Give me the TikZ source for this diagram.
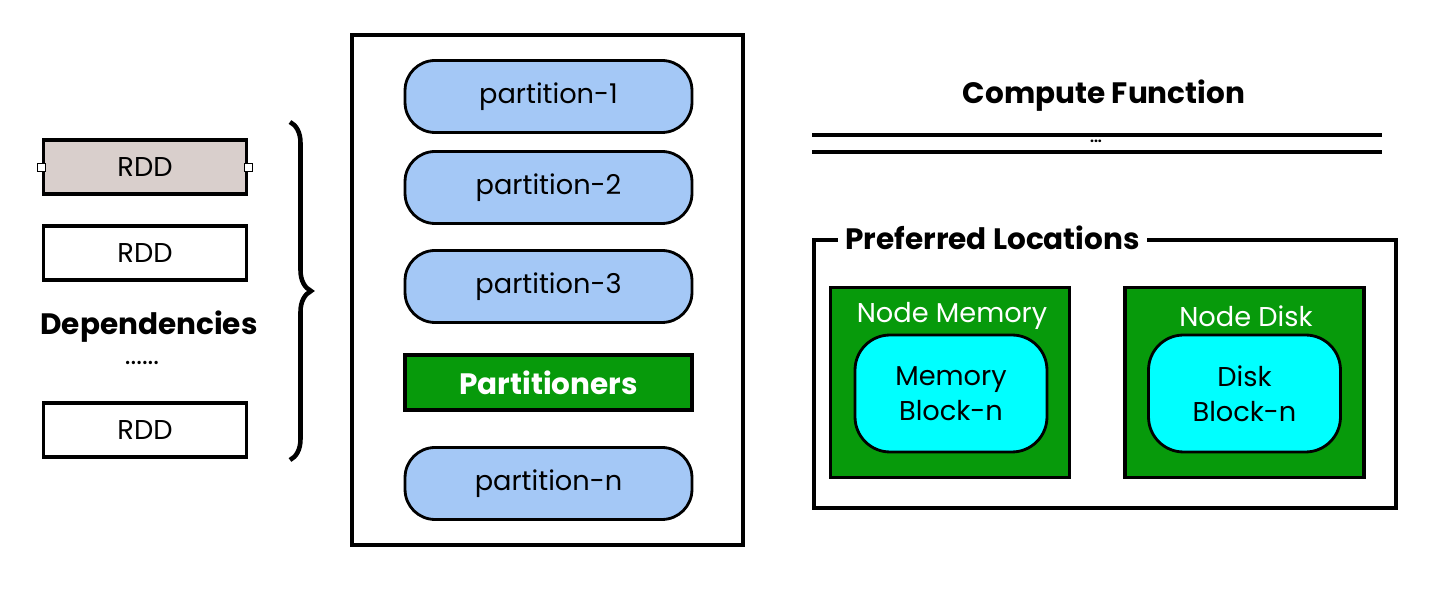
\documentclass[tikz,border=0pt]{standalone}
\usepackage{fontspec}
\setmainfont[Ligatures=NoCommon]{Poppins}
\usepackage{xcolor}
\usetikzlibrary{decorations.pathreplacing}
\definecolor{partblue}{HTML}{A4C8F6}
\definecolor{nodegreen}{HTML}{079A0B}
\definecolor{rddgrey}{HTML}{D9CFCC}
\definecolor{blockcyan}{HTML}{00FFFF}
\begin{document}
\begin{tikzpicture}[x=0.02cm,y=-0.02cm,
    txt/.style={font=\fontsize{15.5}{20}\selectfont},
    bold/.style={font=\fontsize{16.8}{20}\selectfont\bfseries},
    rdd/.style={txt,draw,line width=2pt,minimum width=4.06cm,minimum height=1.08cm},
    port/.style={draw,fill=white,line width=0.4pt,minimum size=0.16cm,inner sep=0pt},
    part/.style={txt,draw,line width=1.6pt,fill=partblue,rounded corners=0.6cm,
      minimum width=5.74cm,minimum height=1.44cm},
    green box/.style={draw,line width=2pt,fill=nodegreen,minimum width=4.78cm,minimum height=3.8cm},
    block/.style={txt,draw,line width=1.6pt,fill=blockcyan,rounded corners=0.7cm,align=center,
      minimum width=3.84cm,minimum height=2.34cm}]
  \useasboundingbox (0,0) rectangle (1448,590);
  % dependencies
  \node[rdd,fill=rddgrey] (R1) at (145,167) {RDD};
  \node[rdd] (R2) at (145,253) {RDD};
  \node[bold] (dep) at (149,327) {Dependencies};
  \node[txt] (dots) at (142,363) {......};
  \node[rdd] (R3) at (145,430) {RDD};
  \node[port] at (R1.west) {};
  \node[port] at (R1.east) {};
  \coordinate (bt) at (290,122);
  \coordinate (bb) at (290,460);
  \draw[line width=2.6pt,decorate,decoration={brace,amplitude=0.42cm}] (bt) -- (bb);
  % partitions
  \node[draw,line width=2pt,minimum width=7.82cm,minimum height=10.2cm] (box) at (547.5,290) {};
  \node[part] (P1) at (548.5,96.5) {partition-1};
  \node[part] (P2) at (548.5,187.5) {partition-2};
  \node[part] (P3) at (548.5,286.5) {partition-3};
  \node[bold,draw,line width=2pt,fill=nodegreen,text=white,minimum width=5.74cm,minimum height=1.1cm]
    (PN) at (548.5,382.5) {Partitioners};
  \node[part] (Pn) at (548.5,483.5) {partition-n};
  % compute function
  \node[bold] (cf) at (1104,96) {Compute Function};
  \coordinate (l1) at (812,135);
  \coordinate (r1) at (1382,135);
  \coordinate (l2) at (812,152);
  \coordinate (r2) at (1382,152);
  \draw[line width=1.8pt] (l1) -- (r1);
  \draw[line width=1.8pt] (l2) -- (r2);
  \node[font=\fontsize{8}{8}\selectfont\bfseries,inner sep=0pt] (cdots) at (1096,141) {...};
  % preferred locations
  \node[draw,line width=2pt,minimum width=11.64cm,minimum height=5.36cm] (pref) at (1105,374) {};
  \node[bold,fill=white,anchor=west,inner sep=4pt] (pt) at (838,238) {Preferred Locations};
  \node[green box] (NM) at (950,382.5) {};
  \node[txt,text=white] (nmt) at (952,316) {Node Memory};
  \node[block] (MB) at (951,393.5) {Memory\\Block-n};
  \node[green box] (ND) at (1244.5,382.5) {};
  \node[txt,text=white] (ndt) at (1246,316) {Node Disk};
  \node[block] (DB) at (1244.5,393.5) {Disk\\Block-n};
\end{tikzpicture}
\end{document}
